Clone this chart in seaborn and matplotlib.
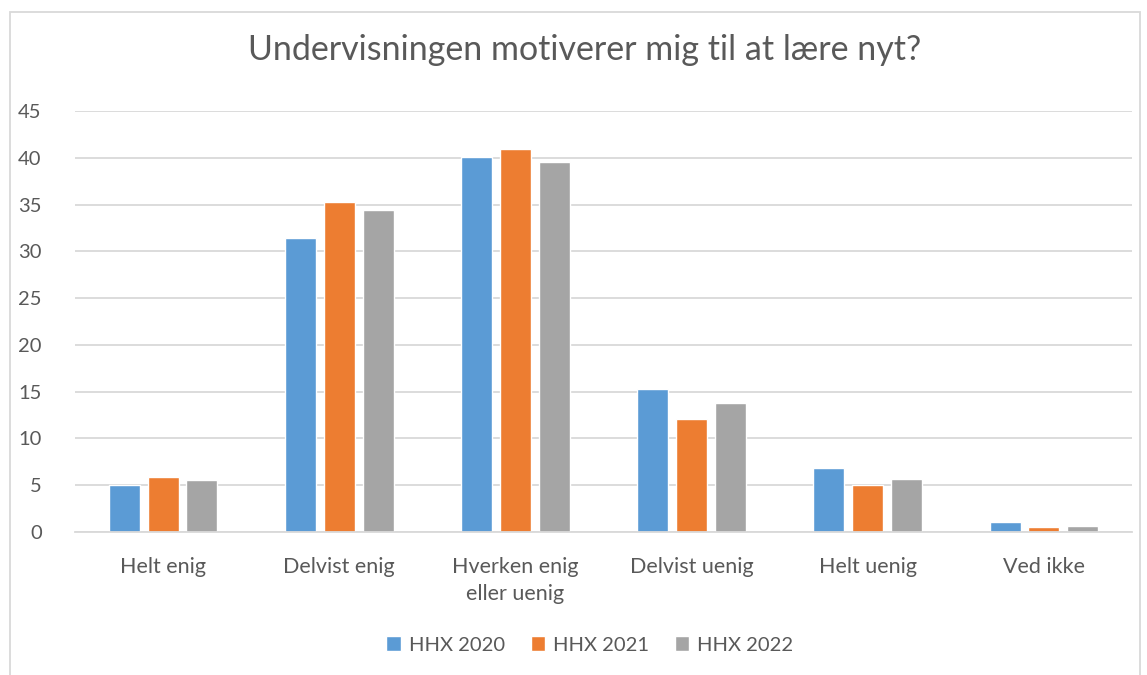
import matplotlib
matplotlib.use("Agg")
import matplotlib.pyplot as plt
import seaborn as sns
import pandas as pd
from matplotlib.patches import Rectangle

categories = ["Helt enig", "Delvist enig", "Hverken enig\neller uenig", "Delvist uenig", "Helt uenig", "Ved ikke"]
series_names = ["HHX 2020", "HHX 2021", "HHX 2022"]
hhx2020 = [5.0, 31.4, 40.1, 15.3, 6.8, 1.1]
hhx2021 = [5.85, 35.3, 40.9, 12.1, 5.0, 0.55]
hhx2022 = [5.6, 34.4, 39.6, 13.8, 5.7, 0.65]
yticks = [0, 5, 10, 15, 20, 25, 30, 35, 40, 45]
colors = ["#5B9BD5", "#ED7D31", "#A5A5A5"]

rows = []
for name, vals in zip(series_names, [hhx2020, hhx2021, hhx2022]):
    for c, v in zip(categories, vals):
        rows.append({"cat": c, "series": name, "value": v})
df = pd.DataFrame(rows)

sns.set_theme(style="white")
plt.rcParams['font.family'] = ['Lato', 'DejaVu Sans']

fig = plt.figure(figsize=(11.47, 6.75), dpi=100)
ax = fig.add_axes([75/1147, 1 - 532/675, (1132 - 75)/1147, (532 - 111)/675])

sns.barplot(data=df, x="cat", y="value", hue="series", order=categories,
            hue_order=series_names, palette=colors, width=0.66, gap=0.2,
            saturation=1, ax=ax, legend=True)

ax.set_ylim(0, 45)
ax.set_yticks(yticks)
ax.set_yticklabels([str(t) for t in yticks])
ax.set_xlim(-0.5, len(categories) - 0.5)
ax.yaxis.grid(True, color="#D9D9D9", linewidth=1.3)
ax.set_axisbelow(True)
for s in ["top", "right", "left"]:
    ax.spines[s].set_visible(False)
ax.spines["bottom"].set_color("#D9D9D9")
ax.spines["bottom"].set_linewidth(1.3)
ax.tick_params(axis="both", length=0, colors="#595959")
ax.tick_params(axis="x", labelsize=15.5, pad=18)
ax.tick_params(axis="y", labelsize=14.5, pad=24)
for lbl in ax.get_xticklabels():
    lbl.set_linespacing(1.45)
ax.set_xlabel("")
ax.set_ylabel("")

fig.text(585/1147, 1 - 50/675, "Undervisningen motiverer mig til at lære nyt?",
         ha="center", va="center", fontsize=24.5, color="#595959")

leg = ax.legend(loc="center", bbox_to_anchor=(590/1147, 1 - 645/675), bbox_transform=fig.transFigure,
                ncol=3, frameon=False, fontsize=14.5, handlelength=0.7, handleheight=0.7,
                columnspacing=1.3, handletextpad=0.4)
for t in leg.get_texts():
    t.set_color("#595959")

fig.patches.append(Rectangle((10/1147, -0.02), (1140 - 10)/1147, 1.02 - 12/675,
                             transform=fig.transFigure, fill=False,
                             edgecolor="#D9D9D9", linewidth=1.3))

fig.savefig("out.png", dpi=100)
